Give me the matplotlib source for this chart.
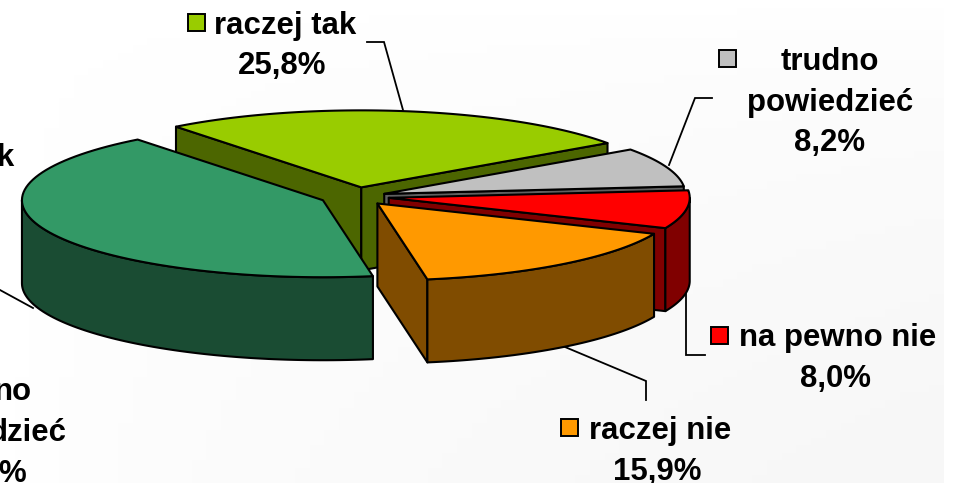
import numpy as np
import matplotlib
matplotlib.use('Agg')
import matplotlib.pyplot as plt
from matplotlib.patches import Polygon, Rectangle

plt.rcParams['font.family'] = ['Liberation Sans', 'DejaVu Sans']

# slices, clockwise from the back left edge
labels = ['raczej tak', 'trudno powiedzieć', 'na pewno nie', 'raczej nie', 'na pewno tak']
values = [25.8, 8.2, 8.0, 15.9, 42.1]
explode = [0.12, 0.10, 0.11, 0.115, 0.12]
top_colors = ['#99CC00', '#C0C0C0', '#FF0000', '#FF9900', '#339966']
side_colors = ['#4C6600', '#606060', '#800000', '#804C00', '#1A4C33']

# pie shape in pixels
CX, CY = 356, 196.5
RX, RY = 301, 77
DEPTH = 83
START = 128
LW = 1.5


def rim(t_from, t_to, cx, cy, drop=0):
    t = np.radians(np.linspace(t_from, t_to, 80))
    return np.column_stack([cx + RX * np.cos(t), cy - RY * np.sin(t) + drop])


def poly(ax, pts, color, z):
    ax.add_patch(Polygon(pts, closed=True, facecolor=color, edgecolor='black',
                         linewidth=LW, joinstyle='round', zorder=z))


def draw_slices(ax):
    ts = START
    for i, v in enumerate(values):
        te = ts - v * 3.6
        mid = np.radians((ts + te) / 2)
        cx = CX + explode[i] * RX * np.cos(mid)
        cy = CY - explode[i] * RY * np.sin(mid)
        z = 3 + i
        apex = np.array([cx, cy])
        down = np.array([0, DEPTH])

        # radial faces, only those turned to the viewer
        for t, visible in ((ts, np.cos(np.radians(ts)) < 0), (te, np.cos(np.radians(te)) > 0)):
            if visible:
                edge = rim(t, t, cx, cy)[0]
                poly(ax, [apex, edge, edge + down, apex + down], side_colors[i], z)

        # outer wall, only the front half of the ellipse
        a, b = min(ts, 0), max(te, -180)
        if a > b:
            upper = rim(a, b, cx, cy)
            lower = rim(b, a, cx, cy, DEPTH)
            poly(ax, np.vstack([upper, lower]), side_colors[i], z)

        poly(ax, np.vstack([[apex], rim(ts, te, cx, cy)]), top_colors[i], z)
        ts = te


def draw_leaders(ax):
    leaders = [
        [(367, 42), (384, 42), (403, 110)],
        [(712, 98), (695, 98), (669, 165)],
        [(705, 355), (686, 355), (686, 290)],
        [(646, 400), (646, 381), (565, 347)],
        [(0, 290), (33, 308)],
    ]
    for line in leaders:
        xs, ys = zip(*line)
        ax.plot(xs, ys, color='black', lw=1.3, zorder=2, solid_joinstyle='miter')


def draw_labels(ax):
    style = dict(fontsize=22.4, fontweight='bold', color='black', zorder=10, va='center')
    squares = [(188, 14, 0), (719, 50, 1), (711, 327, 2), (561, 419, 3)]
    for x, y, i in squares:
        ax.add_patch(Rectangle((x, y), 17, 17, facecolor=top_colors[i], edgecolor='black',
                               linewidth=1.4, zorder=10))

    ax.text(214, 26, 'raczej tak', ha='left', **style)
    ax.text(282, 66, '25,8%', ha='center', **style)
    ax.text(830, 62, 'trudno', ha='center', **style)
    ax.text(830, 103, 'powiedzieć', ha='center', **style)
    ax.text(830, 143, '8,2%', ha='center', **style)
    ax.text(739, 338, 'na pewno nie', ha='left', **style)
    ax.text(835, 379, '8,0%', ha='center', **style)
    ax.text(589, 431, 'raczej nie', ha='left', **style)
    ax.text(657, 472, '15,9%', ha='center', **style)

    # labels cut by the left edge of the picture
    ax.text(14, 158, 'k', ha='right', **style)
    ax.text(32, 392, 'no', ha='right', **style)
    ax.text(67, 433, 'dzieć', ha='right', **style)
    ax.text(26, 474, '%', ha='right', **style)


def main():
    fig = plt.figure(figsize=(9.55, 4.83), dpi=100)
    ax = fig.add_axes([0, 0, 1, 1])
    ax.set_xlim(0, 955)
    ax.set_ylim(483, 0)
    ax.axis('off')

    # faint slide background, stops short of the right edge
    grad = np.linspace(0, 1, 64)[:, None] * np.linspace(0, 1, 64)[None, :]
    ax.imshow(1 - 0.035 * grad ** 0.5, extent=(0, 943, 483, 0), cmap='gray', vmin=0, vmax=1,
              aspect='auto', zorder=0)
    ax.set_xlim(0, 955)
    ax.set_ylim(483, 0)

    draw_leaders(ax)
    draw_slices(ax)
    draw_labels(ax)
    fig.savefig('out.png', dpi=100)
    plt.close(fig)


if __name__ == "__main__":
    main()
